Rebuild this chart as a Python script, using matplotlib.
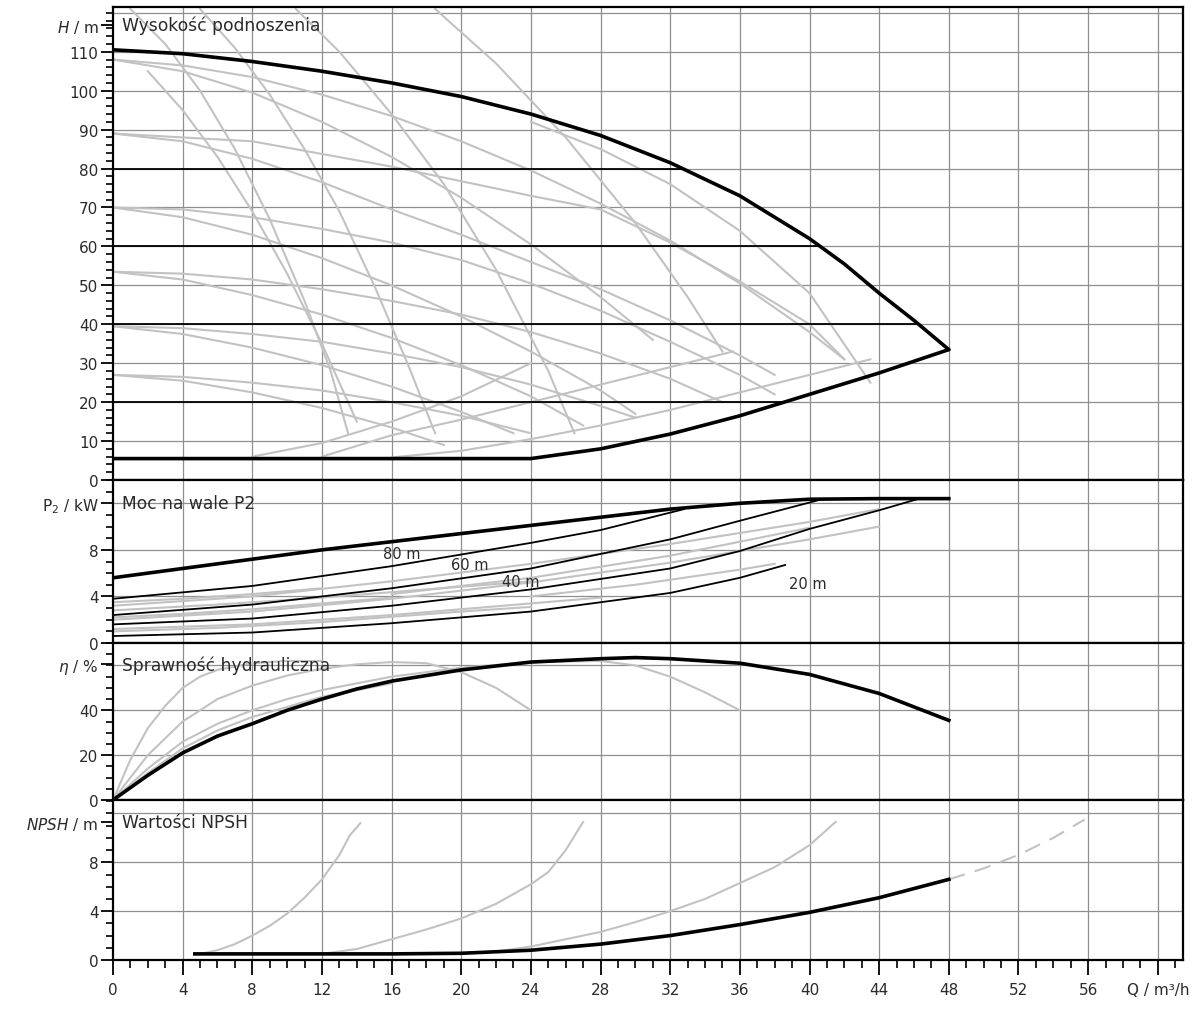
import numpy as np
import matplotlib.pyplot as plt
from matplotlib.ticker import MultipleLocator

# ---------------- data ----------------
# head panel: max / min speed envelope
q_max = [0, 4, 8, 12, 16, 20, 24, 28, 32, 36, 40, 42, 44, 46, 48]
h_max = [110.5, 109.5, 107.5, 105, 102, 98.5, 94, 88.5, 81.5, 73, 62, 55.5, 48, 41, 33.5]
q_min = [0, 24, 28, 32, 36, 40, 44, 48]
h_min = [5.5, 5.5, 8, 11.8, 16.5, 22, 27.5, 33.5]

# constant pressure lines (head, end flow)
dpc_head = [20, 40, 60, 80]
dpc_qend = [38.6, 46.3, 40.6, 32.8]

# gray pump curves in the head panel
gray_h = [
    ([0, 8, 16, 24, 28, 32, 36, 40, 42], [89, 87, 80.5, 73, 69.5, 61, 51, 40, 31]),
    ([0, 4, 8, 12, 16, 20, 24, 28, 32, 36, 38], [89, 87, 82.5, 76.5, 69.5, 63, 56, 49, 41, 32, 27]),
    ([0, 4, 8, 12, 16, 20, 24, 28, 32, 36, 38], [70, 69.5, 67.5, 64.5, 61, 56.5, 50.5, 43.5, 35.5, 27, 22]),
    ([0, 4, 8, 12, 16, 20, 24, 28, 30], [70, 67.5, 63, 57, 50, 42, 33, 23, 17]),
    ([0, 4, 8, 12, 16, 20, 24, 28, 32, 35], [53.5, 53, 51.5, 49, 46, 42.5, 38, 32.5, 26, 20]),
    ([0, 4, 8, 12, 16, 20, 24, 27], [53.5, 51.5, 47.5, 42.5, 36.5, 29.5, 21.5, 14]),
    ([0, 4, 8, 12, 16, 20, 24, 28, 30], [39.5, 39, 37.5, 35.5, 32.5, 29, 24.5, 19, 16]),
    ([0, 4, 8, 12, 16, 20, 23], [39.5, 37.5, 34, 29.5, 24, 17.5, 12]),
    ([0, 4, 8, 12, 16, 20, 24], [27, 26.5, 25, 23, 20, 16.5, 12]),
    ([0, 4, 8, 12, 16, 19], [27, 25.5, 22.5, 18.5, 13.5, 9]),
    ([0, 4, 8, 12, 16, 20, 24, 28, 32, 36, 40, 42], [108, 106.5, 103.5, 99, 93.5, 87, 79.5, 71, 61.5, 50.5, 38, 31]),
    ([0, 4, 8, 12, 16, 20, 24, 28, 31], [108, 105, 99.5, 92, 83, 72.5, 60.5, 47, 36]),
    ([1, 3, 5, 7, 9, 11, 12.5, 13.5], [121, 112, 100, 85, 67, 46, 28, 12]),
    ([5, 7, 9, 11, 13, 15, 17, 18.5], [121, 111, 99, 85, 69, 50, 29, 12]),
    ([10.5, 13, 16, 19, 22, 25, 26.5], [121, 110, 94, 76, 54, 28, 12]),
    ([18.5, 22, 26, 30, 33, 35], [121, 107, 88, 66, 47, 33]),
    ([24, 28, 32, 36, 40, 43.5], [92, 85, 76, 64, 48, 25]),
    ([12, 16, 20, 24, 28, 32, 35.6], [6, 11.5, 15.5, 20, 24.5, 29, 33]),
    ([8, 12, 16, 20, 24], [6, 9.5, 15, 21.5, 30]),
    ([16, 20, 24, 28, 32, 36, 40, 43.5], [5.8, 7.5, 10.5, 14, 18, 22.5, 27, 31]),
    ([2, 4, 6, 8, 10, 12, 14], [105, 95, 83, 69, 53, 35, 15]),
]

# shaft power panel
p_max = [5.6, 6.4, 7.2, 8.0, 8.7, 9.4, 10.1, 10.8, 11.5, 12.0, 12.35, 12.4, 12.4]
qp_max = [0, 4, 8, 12, 16, 20, 24, 28, 32, 36, 40, 44, 48]
p_lines = {
    '80 m': ([0, 8, 16, 24, 28, 32, 32.8], [3.8, 4.9, 6.6, 8.6, 9.7, 11.2, 11.5]),
    '60 m': ([0, 8, 16, 24, 32, 36, 40.6], [2.4, 3.3, 4.7, 6.4, 8.9, 10.5, 12.3]),
    '40 m': ([0, 8, 16, 24, 32, 36, 40, 44, 46.3], [1.6, 2.1, 3.2, 4.6, 6.4, 7.9, 9.8, 11.4, 12.4]),
    '20 m': ([0, 8, 16, 24, 32, 36, 38.6], [0.6, 0.9, 1.7, 2.7, 4.3, 5.6, 6.7]),
}
p_label_pos = {'80 m': (16.6, 7.7), '60 m': (20.5, 6.7), '40 m': (23.4, 5.3), '20 m': (39.9, 5.1)}
gray_p = [
    ([0, 8, 16, 24, 32, 40, 44], [3.2, 4.0, 5.3, 6.8, 8.5, 10.4, 11.5]),
    ([0, 8, 16, 24, 32, 40, 44], [2.0, 2.7, 3.8, 5.2, 6.9, 8.9, 10.0]),
    ([0, 8, 16, 24, 28], [1.2, 1.6, 2.4, 3.4, 3.9]),
    ([0, 6, 12, 18, 24], [2.8, 3.3, 3.9, 4.6, 5.3]),
    ([0, 4, 8, 12], [3.5, 3.8, 4.2, 4.7]),
    ([0, 6, 12, 20, 24], [1.0, 1.3, 1.8, 2.7, 3.1]),
    ([0, 4, 8, 12, 16], [2.2, 2.5, 2.9, 3.4, 3.9]),
    ([16, 24, 32, 36, 40], [4.2, 5.6, 7.5, 8.7, 9.9]),
    ([24, 30, 36, 38], [4.0, 5.0, 6.3, 6.8]),
]

# hydraulic efficiency panel
q_eta = [0, 2, 4, 6, 8, 10, 12, 14, 16, 20, 24, 28, 30, 32, 36, 40, 44, 48]
eta = [0, 11, 21, 28.5, 34, 40, 45, 49.5, 53, 58, 61.5, 63, 63.5, 63, 61, 56, 47.5, 35.5]
gray_eta = [
    ([0, 1, 2, 3, 4, 5, 6, 8, 10, 12], [0, 18, 32, 42, 50, 55, 58, 61, 62, 62]),
    ([0, 2, 4, 6, 8, 10, 12, 14, 16, 18, 20, 22, 24], [0, 20, 35, 45, 51, 55.5, 58.5, 60.5, 61.5, 61, 57, 50, 40]),
    ([0, 2, 4, 6, 8, 10, 12, 16, 20, 24, 28, 30, 32, 34, 36], [0, 14, 26, 34, 40, 45, 49, 55, 59, 61.5, 62, 60, 55, 48, 40]),
    ([0, 2, 4, 6, 8, 12, 16], [0, 12, 23, 31, 37, 46, 52]),
]

# NPSH panel
q_npsh = [4.7, 8, 12, 16, 20, 24, 28, 32, 36, 40, 44, 48]
npsh = [0.5, 0.5, 0.5, 0.5, 0.55, 0.8, 1.3, 2.0, 2.9, 3.9, 5.1, 6.6]
gray_npsh = [
    ([5, 6, 7, 8, 9, 10, 11, 12, 13, 13.6, 14.2], [0.5, 0.8, 1.3, 2.0, 2.8, 3.8, 5.1, 6.6, 8.6, 10.2, 11.2]),
    ([12, 14, 16, 18, 20, 22, 24, 25, 26, 27], [0.5, 0.9, 1.7, 2.5, 3.4, 4.6, 6.2, 7.2, 9.0, 11.3]),
    ([20, 22, 24, 26, 28, 30, 32, 34, 36, 38, 40, 41.5], [0.5, 0.7, 1.1, 1.7, 2.3, 3.1, 4.0, 5.0, 6.3, 7.6, 9.4, 11.3]),
]
gray_npsh_dash = ([48, 50, 52, 54, 55.8], [6.6, 7.5, 8.6, 10.0, 11.5])

x_ticks = list(range(0, 57, 4))

# ---------------- drawing ----------------
plt.rcParams['font.family'] = ['DejaVu Sans']
TXT = '#2a2a2a'
GRID = '#8f8f8f'
GRAY = '#c2c2c2'

fig = plt.figure(figsize=(11.92, 10.12), dpi=100)
L, W = 113 / 1192, (1183 - 113) / 1192


def frame(top_px, bot_px):
    return fig.add_axes([L, 1 - bot_px / 1012, W, (bot_px - top_px) / 1012])


axH = frame(8, 481)
axP = frame(481, 644)
axE = frame(644, 801)
axN = frame(801, 961)


def style(ax, ylim, labelled, unit_at, unit_txt, minor, hgrid, title):
    ax.set_xlim(0, 61.45)
    ax.set_ylim(*ylim)
    ax.set_yticks(labelled + [unit_at])
    ax.set_yticklabels([str(v) for v in labelled] + [unit_txt])
    ax.yaxis.set_minor_locator(MultipleLocator(minor))
    ax.tick_params(axis='y', which='major', direction='out', length=9, width=1.3,
                   pad=1.5, labelsize=11, labelcolor=TXT)
    ax.tick_params(axis='y', which='minor', direction='out', length=5, width=1.2)
    ax.set_xticks(x_ticks + [60])
    ax.xaxis.set_minor_locator(MultipleLocator(1))
    ax.tick_params(axis='x', which='both', bottom=False, labelbottom=False)
    for s in ax.spines.values():
        s.set_linewidth(1.6)
        s.set_color('black')
    for xv in x_ticks[1:] + [60]:
        ax.axvline(xv, color=GRID, lw=0.9, zorder=1)
    for yv in hgrid:
        ax.axhline(yv, color=GRID, lw=0.9, zorder=1)
    ax.text(0.5, unit_at, title, fontsize=12.3, color=TXT, va='center', ha='left', zorder=6)


style(axH, (0, 121.5), list(range(0, 111, 10)), 117, r'$H$ / m', 2,
      range(10, 121, 10), 'Wysokość podnoszenia')
style(axP, (0, 14), [0, 4, 8], 12, r'P$_2$ / kW', 1, [4, 8, 12], 'Moc na wale P2')
style(axE, (0, 70), [0, 20, 40], 60.5, r'$\eta$ / %', 5, [20, 40, 60], 'Sprawność hydrauliczna')
style(axN, (0, 13.1), [0, 4, 8], 11.3, r'$NPSH$ / m', 1, [4, 8, 12], 'Wartości NPSH')

# head panel
for qs, hs in gray_h:
    axH.plot(qs, hs, color=GRAY, lw=1.5, zorder=2)
for h, qe in zip(dpc_head, dpc_qend):
    axH.plot([0, qe], [h, h], color='black', lw=1.3, zorder=3)
axH.plot(q_max, h_max, color='black', lw=2.6, zorder=4, solid_capstyle='round')
axH.plot(q_min, h_min, color='black', lw=2.6, zorder=4, solid_capstyle='round')

# power panel
for qs, ps in gray_p:
    axP.plot(qs, ps, color=GRAY, lw=1.5, zorder=2)
for name, (qs, ps) in p_lines.items():
    axP.plot(qs, ps, color='black', lw=1.3, zorder=3)
    axP.text(*p_label_pos[name], name, fontsize=10.5, color=TXT, ha='center', va='center', zorder=5)
axP.plot(qp_max, p_max, color='black', lw=2.6, zorder=4)

# efficiency panel
for qs, es in gray_eta:
    axE.plot(qs, es, color=GRAY, lw=1.5, zorder=2)
axE.plot(q_eta, eta, color='black', lw=2.6, zorder=4)

# NPSH panel
for qs, ns in gray_npsh:
    axN.plot(qs, ns, color=GRAY, lw=1.5, zorder=2)
axN.plot(*gray_npsh_dash, color=GRAY, lw=1.5, dashes=(8, 5), zorder=2)
axN.plot(q_npsh, npsh, color='black', lw=2.6, zorder=4)

# bottom x axis
axN.tick_params(axis='x', which='major', bottom=True, labelbottom=True, direction='out',
                length=11, width=1.3, pad=5, labelsize=11, labelcolor=TXT)
axN.tick_params(axis='x', which='minor', bottom=True, direction='out', length=6, width=1.2)
axN.set_xticklabels([str(v) for v in x_ticks] + ['Q / m³/h'])

fig.savefig('out.png', dpi=100)
